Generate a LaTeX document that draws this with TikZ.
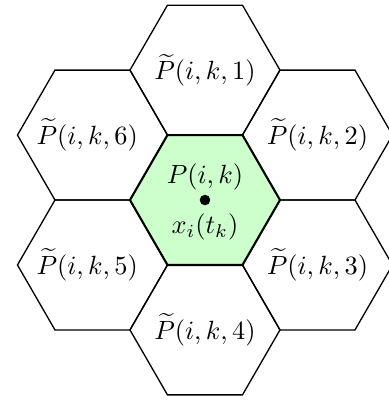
\documentclass[tikz,border=0pt]{standalone}
\usepackage{amsmath,amssymb}
\usepackage{tikz}
\usetikzlibrary{positioning}

\tikzset{
  hexline/.style={draw,line width=0.5pt},
  hexpath/.style={insert path={(0:1) -- (60:1) -- (120:1) -- (180:1) -- (240:1) -- (300:1) -- cycle}},
}

\begin{document}
\begin{tikzpicture}
  \useasboundingbox (-2.733,-2.733) rectangle (2.453,2.667);
  \clip (-2.733,-2.733) rectangle (2.453,2.667);
  \foreach \n in {1,...,6}{
    \coordinate (h\n) at ({150-60*\n}:1.7321);
    \path[hexline,shift={(h\n)},hexpath];
    \node[xshift={-2pt*(\n>4)}] (lbl\n) at (h\n) {$\widetilde{P}(i,k,\n)$};
  }
  \coordinate (ctr) at (0,0);
  \path[hexline,thick,fill=green!20,hexpath];
  \node[circle,fill,inner sep=0pt,minimum size=4pt] (xi) at (ctr) {};
  \node[above=-2pt of xi] (pik) {$P(i,k)$};
  \node[below=-0.5pt of xi] (xtk) {$x_i(t_k)$};
\end{tikzpicture}
\end{document}
